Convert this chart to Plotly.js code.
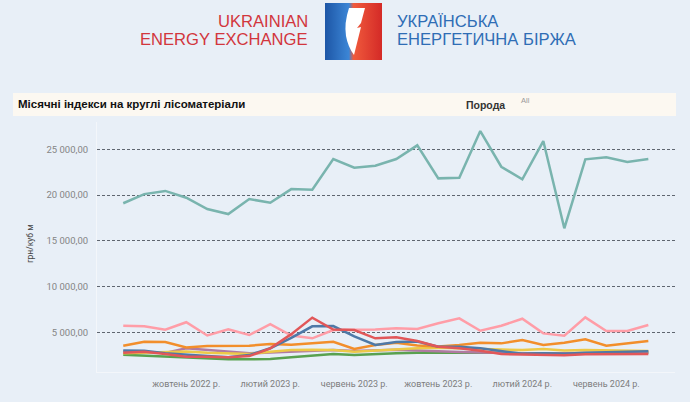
<!DOCTYPE html>
<html>
<head>
<meta charset="utf-8">
<script src="https://cdn.plot.ly/plotly-3.0.1.min.js"></script>
<style>
  html, body { margin: 0; padding: 0; background: #e8eff7; }
  #chart { width: 690px; height: 402px; }
</style>
</head>
<body>
<div id="chart"></div>
<script>
// Months, Jul 2022 .. Aug 2024
const MONTHS = [
  "2022-07", "2022-08", "2022-09", "2022-10", "2022-11", "2022-12",
  "2023-01", "2023-02", "2023-03", "2023-04", "2023-05", "2023-06",
  "2023-07", "2023-08", "2023-09", "2023-10", "2023-11", "2023-12",
  "2024-01", "2024-02", "2024-03", "2024-04", "2024-05", "2024-06",
  "2024-07", "2024-08",
];
const TICK_MONTHS = ["2022-10", "2023-02", "2023-06", "2023-10", "2024-02", "2024-06"];
const TICK_LABELS = [
  "жовтень 2022 р.", "лютий 2023 р.", "червень 2023 р.",
  "жовтень 2023 р.", "лютий 2024 р.", "червень 2024 р.",
];
const Y_TICKS = [5000, 10000, 15000, 20000, 25000];
const Y_TICK_LABELS = ["5 000,00", "10 000,00", "15 000,00", "20 000,00", "25 000,00"];

// грн/куб м, one array per species
const teal = [19100, 20100, 20450, 19700, 18470, 17920, 19560, 19160, 20650, 20580, 23930, 22990, 23200,
  23930, 25430, 21820, 21890, 26990, 23090, 21710, 25900, 16360, 23900, 24120, 23610, 23930];
const pink = [5720, 5650, 5280, 6100, 4650, 5320, 4700, 5900, 4650, 4340, 5250, 5250, 5300,
  5450, 5360, 5980, 6520, 5170, 5720, 6480, 4880, 4620, 6630, 5140, 5140, 5790];
const orange = [3530, 3970, 3930, 3350, 3500, 3500, 3530, 3720, 3640, 3790, 3970, 3170, 3610,
  3860, 3550, 3450, 3600, 3850, 3790, 4150, 3610, 3860, 4230, 3530, 3790, 4040];
const red = [2770, 2880, 2620, 2330, 2330, 2260, 2400, 3250, 4800, 6600, 5300, 5250, 4340,
  4450, 4040, 3420, 3250, 2990, 2620, 2600, 2550, 2500, 2600, 2580, 2600, 2620];
const blue = [3000, 2990, 2700, 2510, 2400, 2260, 2510, 3250, 4400, 5650, 5680, 4550, 3610,
  3930, 4000, 3420, 3420, 3250, 2940, 2650, 2700, 2650, 2750, 2800, 2850, 2930];
const yellow = [2700, 2750, 2800, 2900, 2750, 2650, 2620, 2880, 3060, 3100, 3060, 2880, 3000,
  3150, 3250, 3300, 3250, 3200, 3100, 3060, 3170, 3000, 3060, 3000, 2980, 2950];
const green = [2550, 2450, 2330, 2250, 2150, 2040, 2040, 2080, 2260, 2400, 2620, 2510, 2620,
  2700, 2750, 2750, 2780, 2800, 2750, 2700, 2700, 2650, 2700, 2700, 2720, 2750];
const purple = [2900, 2850, 2750, 3250, 3060, 2880, 2700, 2800, 2900, 3000, 3060, 2950, 3000,
  3100, 3000, 2900, 2850, 2800, 2750, 2700, 2650, 2700, 2700, 2750, 2800, 2850];

// tableau10 colours
const SERIES = [
  [green, "#59a14f"], [purple, "#b07aa1"], [yellow, "#edc948"], [orange, "#f28e2b"],
  [pink, "#ff9da7"], [blue, "#4e79a7"], [red, "#e15759"], [teal, "#79b4ae"],
];

// page geometry in px -> paper coords
const W = 690, H = 402, L = 97, R = 15, T = 122, B = 30;
const PW = W - L - R, PH = H - T - B;
const px = x => (x - L) / PW;
const py = y => (H - B - y) / PH;

const traces = SERIES.map(([vals, color]) => ({
  x: MONTHS, y: vals,
  type: "scatter", mode: "lines",
  line: { color, width: 2.5 },
  hoverinfo: "skip",
}));

const logoSvg =
  '<svg xmlns="http://www.w3.org/2000/svg" width="57" height="57" viewBox="0 0 57 57">' +
  '<defs><linearGradient id="g" x1="0" x2="1" y1="0" y2="0">' +
  '<stop offset="0" stop-color="#1d56a6"/><stop offset="0.42" stop-color="#3c86d6"/>' +
  '<stop offset="0.5" stop-color="#f05a3c"/><stop offset="1" stop-color="#d42a27"/>' +
  '</linearGradient></defs>' +
  '<rect width="57" height="57" fill="url(#g)"/>' +
  '<path d="M24 5 L40 5 L36 20 L32 25 L36 24 L29 52 Q23 44 21 33 Q19 20 24 5 Z" fill="#ffffff"/>' +
  '</svg>';

const font = "Roboto, 'Liberation Sans', Arial, sans-serif";
const ann = (x, y, text, size, color, opts = {}) => Object.assign({
  xref: "paper", yref: "paper", x: px(x), y: py(y), text,
  showarrow: false, xanchor: "left", yanchor: "middle",
  font: { family: "'Liberation Sans', Arial, sans-serif", size, color },
}, opts);

const layout = {
  width: W, height: H,
  margin: { l: L, r: R, t: T, b: B },
  paper_bgcolor: "#e8eff7",
  plot_bgcolor: "#e8eff7",
  showlegend: false,
  xaxis: {
    type: "category",
    range: [-1.25, 26.27],
    tickvals: TICK_MONTHS,
    ticktext: TICK_LABELS,
    tickfont: { family: font, size: 9, color: "#7d7d7d" },
    showgrid: false,
    zeroline: false,
    showline: true, linecolor: "#f3f6fa", linewidth: 1,
    ticks: "", ticklabelstandoff: 3,
  },
  yaxis: {
    range: [660, 27980],
    tickvals: Y_TICKS,
    ticktext: Y_TICK_LABELS,
    tickfont: { family: font, size: 9.5, color: "#858585" },
    showgrid: true, gridcolor: "#5f6670", gridwidth: 1, griddash: "3px,2px",
    zeroline: false,
    showline: true, linecolor: "#f3f6fa", linewidth: 1,
    ticks: "", ticklabelstandoff: 6,
  },
  shapes: [
    { type: "rect", xref: "paper", yref: "paper", layer: "below",
      x0: px(13), x1: px(676), y0: py(116), y1: py(93),
      fillcolor: "#fcf8f1", line: { width: 0 } },
  ],
  images: [
    { source: "data:image/svg+xml;charset=utf-8," + encodeURIComponent(logoSvg),
      xref: "paper", yref: "paper", x: px(325), y: py(3),
      sizex: 57 / PW, sizey: 57 / PH, xanchor: "left", yanchor: "top",
      sizing: "stretch", layer: "above" },
  ],
  annotations: [
    ann(310, 21, "UKRAINIAN", 16.6, "#d2363d", { xanchor: "right" }),
    ann(310, 40, "ENERGY EXCHANGE", 16.6, "#d2363d", { xanchor: "right" }),
    ann(395, 21, "УКРАЇНСЬКА", 16.6, "#2f6db5"),
    ann(395, 40, "ЕНЕРГЕТИЧНА БІРЖА", 16.6, "#2f6db5"),
    ann(16, 104, "<b>Місячні індекси на круглі лісоматеріали</b>", 11.5, "#111111"),
    ann(464, 105, "<b>Порода</b>", 10.5, "#333333"),
    ann(519, 101, "All", 7.5, "#9a9a9a"),
    ann(30, 244, "грн/куб м", 8.5, "#444444", { xanchor: "center", textangle: -90,
      font: { family: font, size: 8.5, color: "#444444" } }),
  ],
};

Plotly.newPlot("chart", traces, layout, { displayModeBar: false, staticPlot: true });
</script>
</body>
</html>
